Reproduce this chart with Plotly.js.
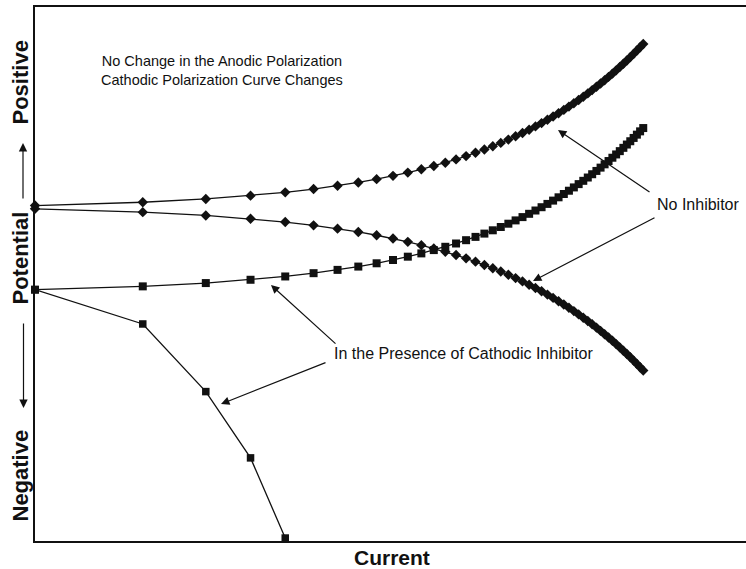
<!DOCTYPE html>
<html>
<head>
<meta charset="utf-8">
<script src="https://cdn.plot.ly/plotly-3.0.1.min.js"></script>
<style>
  html, body { margin: 0; padding: 0; background: #fff; }
  #chart { width: 746px; height: 569px; }
</style>
</head>
<body>
<div id="chart"></div>
<script>
// Current steps (arbitrary units, plotted on a log axis)
const current = [1,2,3,4,5,6,7,8,9,10,11,12,13,14,15,16,17,18,19,20,21,22,23,24,25,
                 26,27,28,29,30,31,32,33,34,35,36,37,38,39,40,41,42,43,44,45,46,47,48,49,50];
const currentInhibited = [1,2,3,4,5];

// Potential (arbitrary units) - no inhibitor
const anodicNoInhibitor = [0,10,20,30,40,50,60,70,80,90,100,110,120,130,140,150,160,170,180,190,
                           200,210,220,230,240,250,260,270,280,290,300,310,320,330,340,350,360,370,380,390,
                           400,410,420,430,440,450,460,470,480,490];
const cathodicNoInhibitor = [-10,-20,-30,-40,-50,-60,-70,-80,-90,-100,-110,-120,-130,-140,-150,-160,-170,-180,-190,-200,
                             -210,-220,-230,-240,-250,-260,-270,-280,-290,-300,-310,-320,-330,-340,-350,-360,-370,-380,-390,-400,
                             -410,-420,-430,-440,-450,-460,-470,-480,-490,-500];

// Potential (arbitrary units) - with cathodic inhibitor
const anodicWithInhibitor = [-255,-245,-235,-225,-215,-205,-195,-185,-175,-165,-155,-145,-135,-125,-115,-105,-95,-85,-75,-65,
                             -55,-45,-35,-25,-15,-5,5,15,25,35,45,55,65,75,85,95,105,115,125,135,
                             145,155,165,175,185,195,205,215,225,235];
const cathodicWithInhibitor = [-255,-359,-564,-765,-1008];

// Text
const noteLines = ["No Change in the Anodic Polarization", "Cathodic Polarization Curve Changes"];
const labelNoInhibitor = "No Inhibitor";
const labelInhibitor = "In the Presence of Cathodic Inhibitor";
const xTitle = "Current";
const yTitleParts = ["Positive", "Potential", "Negative"];

const W = 746, H = 569;
const M = { l: 35, r: 0, t: 7, b: 28 };
const plotW = W - M.l - M.r, plotH = H - M.t - M.b;
// pixel -> paper coordinates for annotation placement
const px = x => (x - M.l) / plotW;
const py = y => (H - M.b - y) / plotH;

const FONT = "Liberation Sans, Arial, Helvetica, sans-serif";
const INK = "#111";

function curve(x, y, symbol, size) {
  return {
    type: "scatter", mode: "lines+markers", x: x, y: y,
    line: { color: INK, width: 1.3 },
    marker: { symbol: symbol, size: size, color: INK },
    cliponaxis: false, showlegend: false, hoverinfo: "skip"
  };
}

const traces = [
  curve(current, anodicNoInhibitor, "diamond", 8),
  curve(current, cathodicNoInhibitor, "diamond", 8),
  curve(current, anodicWithInhibitor, "square", 8),
  curve(currentInhibited, cathodicWithInhibitor, "square", 7.5)
];

function text(t, x, y, size, bold, angle) {
  return {
    xref: "paper", yref: "paper", x: px(x), y: py(y),
    xanchor: "center", yanchor: "middle", showarrow: false,
    text: bold ? "<b>" + t + "</b>" : t, textangle: angle || 0,
    font: { family: FONT, size: size, color: INK }
  };
}
function arrow(tipX, tipY, tailX, tailY, head, sz) {
  return {
    xref: "paper", yref: "paper", x: px(tipX), y: py(tipY),
    ax: tailX - tipX, ay: tailY - tipY, axref: "pixel", ayref: "pixel",
    text: "", showarrow: true, arrowhead: head || 2, arrowsize: sz || 1.4,
    arrowwidth: 1.2, arrowcolor: INK, standoff: 0, startstandoff: 0
  };
}

const annotations = [
  text(noteLines.join("<br>"), 222, 71, 14.5),
  text(labelNoInhibitor, 698, 204, 16),
  text(labelInhibitor, 464, 353, 16),
  text(xTitle, 392, 557, 21, true),
  text(yTitleParts[0], 19.5, 83, 22, true, -90),
  text(yTitleParts[1], 19.5, 258, 22, true, -90),
  text(yTitleParts[2], 19.5, 476, 22, true, -90),
  arrow(23, 143, 23, 200, 2, 1.4),
  arrow(23.5, 408, 23.5, 322, 2, 1.4),
  arrow(558, 130, 651, 193),
  arrow(533, 281, 656, 217),
  arrow(271, 285, 337, 345),
  arrow(221, 404, 327, 362)
];

const layout = {
  width: W, height: H,
  margin: M,
  paper_bgcolor: "#fff", plot_bgcolor: "#fff",
  showlegend: false,
  xaxis: {
    type: "log", range: [0, 1.986],
    showgrid: false, zeroline: false, showticklabels: false, ticks: "",
    showline: true, mirror: true, linecolor: INK, linewidth: 1.8
  },
  yaxis: {
    range: [-1017, 602],
    showgrid: false, zeroline: false, showticklabels: false, ticks: "",
    showline: true, mirror: false, linecolor: INK, linewidth: 1.8
  },
  annotations: annotations
};

Plotly.newPlot("chart", traces, layout, { staticPlot: true, displayModeBar: false });
</script>
</body>
</html>
